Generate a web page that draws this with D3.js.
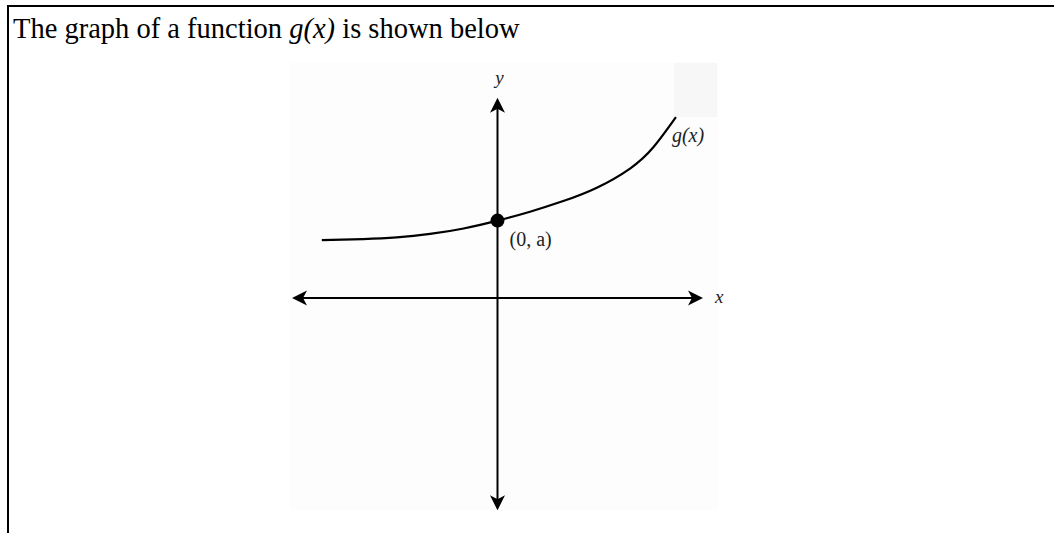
<!DOCTYPE html>
<html>
<head>
<meta charset="utf-8">
<script src="https://cdn.jsdelivr.net/npm/d3@7"></script>
<style>
  body { margin: 0; background: #fff; }
  svg { display: block; }
</style>
</head>
<body>
<div id="chart"></div>
<script>

// values (graph units, 1 unit = one arrow-axis step)
var curveX = [-5.13, -3.92, -2.94, -1.97, -0.99, 0, 0.95, 1.92, 2.90, 3.87, 4.55, 5.21];
var curveY = [1.69, 1.72, 1.77, 1.87, 2.03, 2.26, 2.52, 2.83, 3.22, 3.78, 4.40, 5.28];
var interceptPoint = [0, 2.26];
var xAxisEnds = [-6, 6];
var yAxisEnds = [-6.2, 5.85];
var titleParts = ["The graph of a function ", "g(x)", " is shown below"];
var labels = { x: "x", y: "y", curve: "g(x)", point: "(0, a)" };

var width = 1054, height = 533;

var svg = d3.select('#chart')
    .append('svg')
    .attr('width', width)
    .attr('height', height);

// frame: top and left rules only
svg.append("line")
    .attr("x1", 7).attr("x2", width)
    .attr("y1", 6).attr("y2", 6)
    .attr("stroke", "#000").attr("stroke-width", 2);
svg.append("line")
    .attr("x1", 8).attr("x2", 8)
    .attr("y1", 5).attr("y2", height)
    .attr("stroke", "#000").attr("stroke-width", 2);

// title
var title = svg.append("text")
    .attr("x", 13)
    .attr("y", 38)
    .style("font-family", "'Liberation Serif', 'Times New Roman', serif")
    .style("font-size", "28.5px")
    .attr("fill", "#000");
title.selectAll("tspan")
    .data(titleParts)
    .join("tspan")
    .style("font-style", function (d, i) { return i == 1 ? "italic" : "normal" })
    .text(function (d) { return d });

// scales
var x_scale = d3.scaleLinear()
    .domain([-6, 6])
    .range([292, 703]);
var y_scale = d3.scaleLinear()
    .domain([-6, 6])
    .range([503.5, 92.5]);

// pasted-image background
svg.append("rect")
    .attr("x", 290).attr("y", 62)
    .attr("width", 428).attr("height", 448)
    .attr("fill", "#fdfdfd");
svg.append("rect")
    .attr("x", 674).attr("y", 63)
    .attr("width", 43).attr("height", 54)
    .attr("fill", "#f7f7f7");

var g = svg.append("g");

// arrowhead shape pointing right, tip at origin
var arrowPath = "M0,0 L-15,-7.5 L-11,0 L-15,7.5 Z";

function drawArrow(px, py, angle) {
    g.append("path")
        .attr("d", arrowPath)
        .attr("transform", "translate(" + px + "," + py + ") rotate(" + angle + ")")
        .attr("fill", "#000");
}

// x axis
g.append("line")
    .attr("x1", x_scale(xAxisEnds[0]) + 6).attr("x2", x_scale(xAxisEnds[1]) - 6)
    .attr("y1", y_scale(0)).attr("y2", y_scale(0))
    .attr("stroke", "#000").attr("stroke-width", 2);
drawArrow(x_scale(xAxisEnds[0]), y_scale(0), 180);
drawArrow(x_scale(xAxisEnds[1]), y_scale(0), 0);

// y axis
g.append("line")
    .attr("x1", x_scale(0)).attr("x2", x_scale(0))
    .attr("y1", y_scale(yAxisEnds[0]) - 6).attr("y2", y_scale(yAxisEnds[1]) + 6)
    .attr("stroke", "#000").attr("stroke-width", 2);
drawArrow(x_scale(0), y_scale(yAxisEnds[1]), -90);
drawArrow(x_scale(0), y_scale(yAxisEnds[0]), 90);

// curve g(x)
var curveData = curveX.map(function (d, i) { return [d, curveY[i]] });
var line = d3.line()
    .x(function (d) { return x_scale(d[0]) })
    .y(function (d) { return y_scale(d[1]) })
    .curve(d3.curveNatural);
g.append("path")
    .datum(curveData)
    .attr("d", line)
    .attr("fill", "none")
    .attr("stroke", "#000")
    .attr("stroke-width", 2.2);

// y-intercept dot
g.append("circle")
    .attr("cx", x_scale(interceptPoint[0]))
    .attr("cy", y_scale(interceptPoint[1]))
    .attr("r", 7)
    .attr("fill", "#000");

// labels
var labelFont = "'Liberation Serif', 'Times New Roman', serif";
g.append("text")
    .attr("x", x_scale(0) + 2)
    .attr("y", y_scale(yAxisEnds[1]) - 14)
    .attr("text-anchor", "middle")
    .style("font-family", labelFont).style("font-style", "italic").style("font-size", "19px")
    .attr("fill", "#222")
    .text(labels.y);
g.append("text")
    .attr("x", x_scale(xAxisEnds[1]) + 12)
    .attr("y", y_scale(0) + 5)
    .style("font-family", labelFont).style("font-style", "italic").style("font-size", "19px")
    .attr("fill", "#222")
    .text(labels.x);
g.append("text")
    .attr("x", x_scale(curveX[curveX.length - 1]) - 4)
    .attr("y", y_scale(curveY[curveY.length - 1]) + 25)
    .style("font-family", labelFont).style("font-style", "italic").style("font-size", "20px")
    .attr("fill", "#222")
    .text(labels.curve);
g.append("text")
    .attr("x", x_scale(interceptPoint[0]) + 12)
    .attr("y", y_scale(interceptPoint[1]) + 25)
    .style("font-family", labelFont).style("font-size", "20px")
    .attr("fill", "#222")
    .text(labels.point);

</script>
</body>
</html>
